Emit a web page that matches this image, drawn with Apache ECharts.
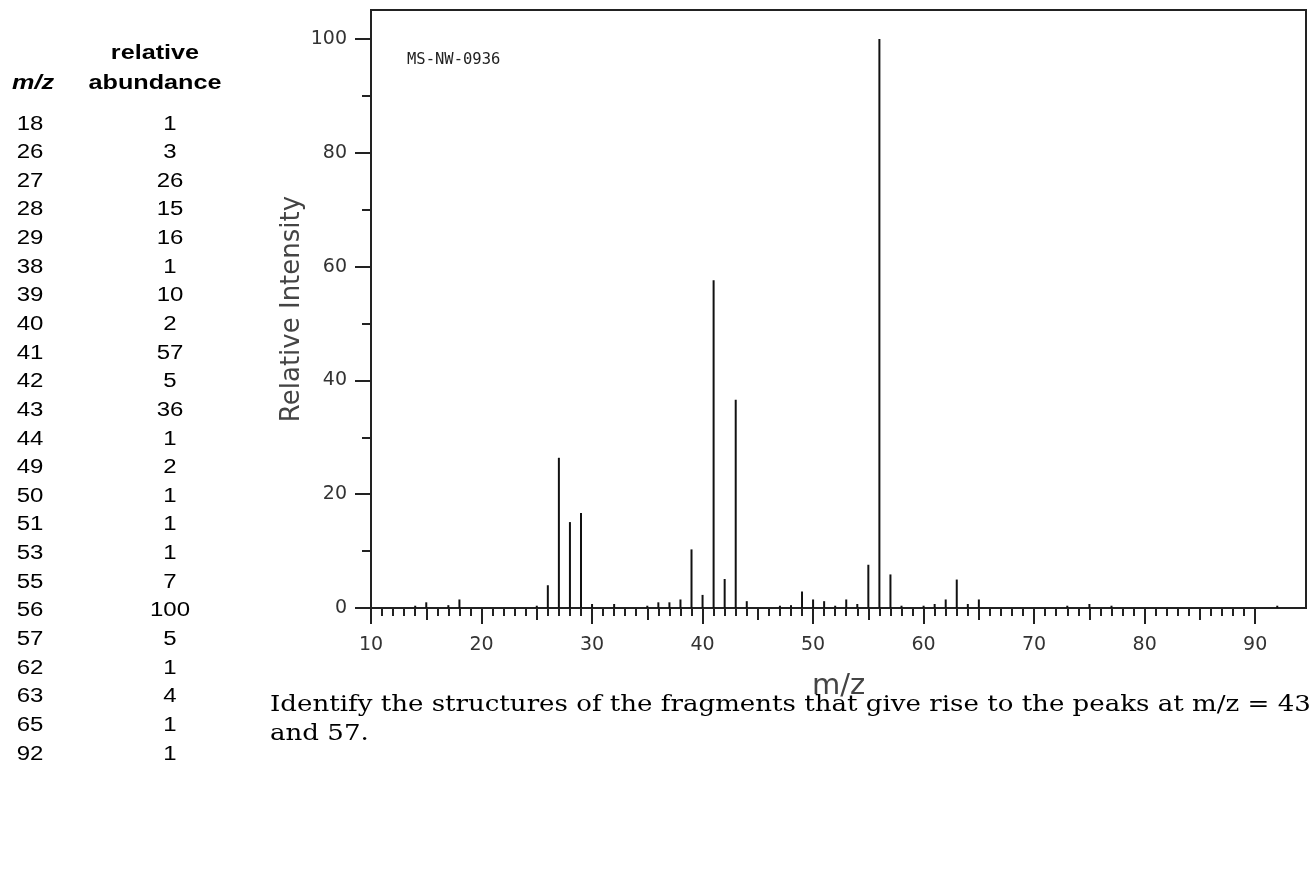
<!DOCTYPE html>
<html>
<head>
<meta charset="utf-8">
<title>MS-NW-0936</title>
<script src="https://cdn.jsdelivr.net/npm/echarts@6/dist/echarts.min.js"></script>
<style>
  html, body { margin: 0; padding: 0; background: #fff; }
  #main { width: 1312px; height: 891px; }
</style>
</head>
<body>
<div id="main"></div>
<script>
// peaks
const peakMz = [14, 15, 17, 18, 25, 26, 27, 28, 29, 30, 32, 35, 36, 37, 38, 39, 40, 41, 42, 43, 44,
  47, 48, 49, 50, 51, 52, 53, 54, 55, 56, 57, 58, 60, 61, 62, 63, 64, 65, 73, 75, 77, 92];
const peakIntensity = [0.4, 1.0, 0.5, 1.5, 0.4, 4.0, 26.4, 15.1, 16.7, 0.7, 0.7, 0.4, 1.0, 1.0, 1.5, 10.3, 2.3, 57.6, 5.1, 36.6, 1.2,
  0.4, 0.5, 2.9, 1.5, 1.2, 0.4, 1.5, 0.7, 7.6, 100, 5.9, 0.4, 0.4, 0.7, 1.5, 5.0, 0.7, 1.5, 0.4, 0.7, 0.4, 0.4];

// table on the left
const tableMz = [18, 26, 27, 28, 29, 38, 39, 40, 41, 42, 43, 44, 49, 50, 51, 53, 55, 56, 57, 62, 63, 65, 92];
const tableAbundance = [1, 3, 26, 15, 16, 1, 10, 2, 57, 5, 36, 1, 2, 1, 1, 1, 7, 100, 5, 1, 4, 1, 1];

// axis ticks
const xMajorTicks = [10, 20, 30, 40, 50, 60, 70, 80, 90];
const xMidTicks = [15, 25, 35, 45, 55, 65, 75, 85];
const yMajorTicks = [0, 20, 40, 60, 80, 100];
const yMinorTicks = [10, 30, 50, 70, 90];

const questionLines = [
  "Identify the structures of the fragments that give rise to the peaks at m/z = 43",
  "and 57."
];

const X_MIN = 10, X_MAX = 94.6;
const Y_MAX = 105.1;

// small ticks at every integer between the labelled ones, up to 90
let xMinorTicks = [];
for (let v = 11; v < 90; v++) {
  if (v % 5 !== 0) xMinorTicks.push(v);
}

const ink = "#222";
const labelFont = "DejaVu Sans";

let chart = echarts.init(document.getElementById("main"), null, { renderer: "canvas" });

let graphics = [];
// table header
graphics.push({ type: "text", x: 155, y: 53, scaleX: 1.2,
  style: { text: "relative", font: "bold 21px 'Liberation Sans'", fill: "#000", textAlign: "center", textVerticalAlign: "middle" } });
graphics.push({ type: "text", x: 155, y: 83, scaleX: 1.2,
  style: { text: "abundance", font: "bold 21px 'Liberation Sans'", fill: "#000", textAlign: "center", textVerticalAlign: "middle" } });
graphics.push({ type: "text", x: 33, y: 83, scaleX: 1.2,
  style: { text: "m/z", font: "italic bold 21px 'Liberation Sans'", fill: "#000", textAlign: "center", textVerticalAlign: "middle" } });
tableMz.forEach(function (mz, i) {
  let y = 124 + i * 28.64;
  graphics.push({ type: "text", x: 30, y: y, scaleX: 1.2,
    style: { text: String(mz), font: "20px 'Liberation Sans'", fill: "#000", textAlign: "center", textVerticalAlign: "middle" } });
  graphics.push({ type: "text", x: 170, y: y, scaleX: 1.2,
    style: { text: String(tableAbundance[i]), font: "20px 'Liberation Sans'", fill: "#000", textAlign: "center", textVerticalAlign: "middle" } });
});
// spectrum id
graphics.push({ type: "text", x: 407, y: 60,
  style: { text: "MS-NW-0936", font: "15.5px 'DejaVu Sans Mono'", fill: "#222", textAlign: "left", textVerticalAlign: "middle" } });
// question
questionLines.forEach(function (line, i) {
  graphics.push({ type: "text", x: 270, y: 705 + i * 29, scaleX: 1.185,
    style: { text: line, font: "22px 'DejaVu Serif'", fill: "#000", textAlign: "left", textVerticalAlign: "middle" } });
});

function tickAxis(values, len) {
  return {
    type: "value", min: X_MIN, max: X_MAX, position: "bottom",
    axisLine: { show: false },
    axisTick: { show: true, customValues: values, length: len, lineStyle: { color: ink, width: 2 } },
    axisLabel: { show: false },
    splitLine: { show: false }
  };
}

chart.setOption({
  animation: false,
  backgroundColor: "#fff",
  grid: { left: 371, right: 6, top: 10, bottom: 283, show: true, borderColor: ink, borderWidth: 2 },
  xAxis: [
    {
      type: "value", min: X_MIN, max: X_MAX, position: "bottom",
      name: "m/z", nameLocation: "middle", nameGap: 64, nameMoveOverlap: false,
      nameTextStyle: { fontFamily: labelFont, fontSize: 29, color: "#444" },
      axisLine: { show: true, lineStyle: { color: ink, width: 2 } },
      axisTick: { show: true, customValues: xMajorTicks, length: 16, lineStyle: { color: ink, width: 2 } },
      axisLabel: { customValues: xMajorTicks, margin: 28, fontFamily: labelFont, fontSize: 19, color: "#333" },
      splitLine: { show: false }
    },
    tickAxis(xMidTicks, 12),
    tickAxis(xMinorTicks, 8)
  ],
  yAxis: [
    {
      type: "value", min: 0, max: Y_MAX, position: "left",
      name: "Relative Intensity", nameLocation: "middle", nameGap: 66, nameMoveOverlap: false,
      nameTextStyle: { fontFamily: labelFont, fontSize: 26, color: "#444" },
      axisLine: { show: true, lineStyle: { color: ink, width: 2 } },
      axisTick: { show: true, customValues: yMajorTicks, length: 16, lineStyle: { color: ink, width: 2 } },
      axisLabel: { customValues: yMajorTicks, margin: 24, fontFamily: labelFont, fontSize: 19, color: "#333" },
      splitLine: { show: false }
    },
    {
      type: "value", min: 0, max: Y_MAX, position: "left",
      axisLine: { show: false },
      axisTick: { show: true, customValues: yMinorTicks, length: 9, lineStyle: { color: ink, width: 2 } },
      axisLabel: { show: false },
      splitLine: { show: false }
    }
  ],
  series: [
    {
      type: "bar",
      xAxisIndex: 0,
      yAxisIndex: 0,
      barWidth: 2,
      itemStyle: { color: "#111" },
      data: peakMz.map(function (mz, i) { return [mz, peakIntensity[i]]; })
    }
  ],
  graphic: graphics
});
</script>
</body>
</html>
